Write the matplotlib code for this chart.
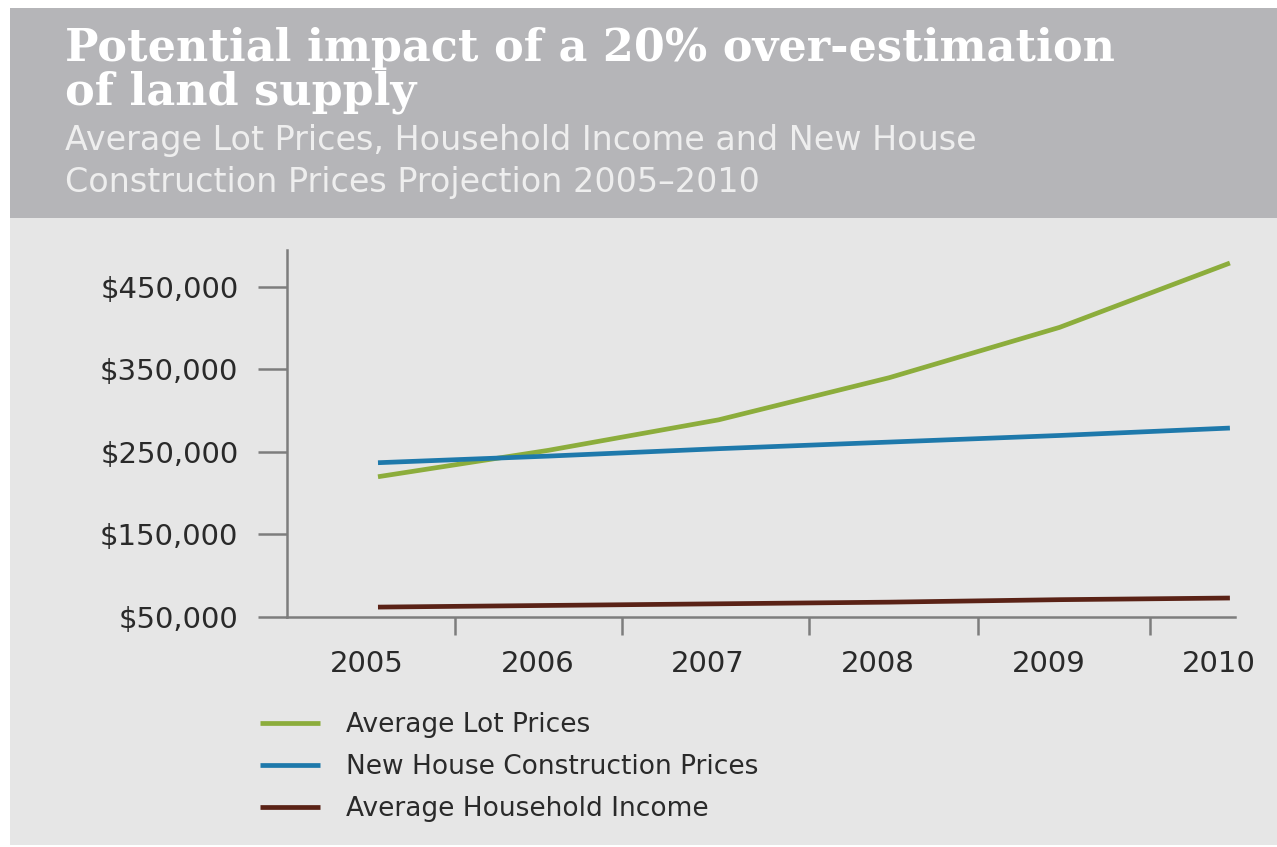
import matplotlib
matplotlib.use("Agg")
import matplotlib.pyplot as plt
import matplotlib.transforms as mtransforms
from matplotlib.patches import Rectangle

# projected values, in thousands of dollars
years = [2005, 2006, 2007, 2008, 2009, 2010]
lot_prices = [220, 252, 289, 340, 401, 479]
construction_prices = [237, 245, 254, 262, 270, 279]
household_income = [62, 64, 66, 68, 71, 73]

series_labels = ["Average Lot Prices", "New House Construction Prices", "Average Household Income"]
series_colors = ["#8cad3c", "#1e79ab", "#5a2216"]

y_ticks = [50, 150, 250, 350, 450]
y_ticklabels = ["$50,000", "$150,000", "$250,000", "$350,000", "$450,000"]
x_minor = [2005.45, 2006.43, 2007.53, 2008.52, 2009.53]

W, H = 1277, 847


def px(x, y):
    # pixel coords (top-left origin) to figure fraction
    return x / W, 1 - y / H


fig = plt.figure(figsize=(W / 100, H / 100), dpi=100, facecolor="white")

# header band and panel background
fig.patches.append(Rectangle(px(10, 218), (W - 10) / W, 210 / H, transform=fig.transFigure,
                             facecolor="#b5b5b8", edgecolor="none", zorder=-5))
fig.patches.append(Rectangle(px(10, 845), (W - 10) / W, 627 / H, transform=fig.transFigure,
                             facecolor="#e6e6e6", edgecolor="none", zorder=-5))

title_font = dict(family="DejaVu Serif", weight="bold", size=32, color="white", va="baseline")
sub_font = dict(family="DejaVu Sans", size=24, color="#eeeeee", va="baseline")
tx, ty = px(65, 61)
fig.text(tx, ty, "Potential impact of a 20% over-estimation", **title_font)
tx, ty = px(65, 105)
fig.text(tx, ty, "of land supply", **title_font)
tx, ty = px(65, 150)
fig.text(tx, ty, "Average Lot Prices, Household Income and New House", **sub_font)
tx, ty = px(65, 192)
fig.text(tx, ty, "Construction Prices Projection 2005\u20132010", **sub_font)

left, top = px(287, 250)
right, bottom = px(1235, 617)
ax = fig.add_axes([left, bottom, right - left, top - bottom])
ax.set_zorder(2)
ax.set_facecolor("none")

for vals, lab, col in zip([lot_prices, construction_prices, household_income],
                          series_labels, series_colors):
    ax.plot(years, vals, color=col, lw=3.4, label=lab,
            solid_capstyle="butt", solid_joinstyle="round")

ax.set_xlim(2004.466, 2010.03)
ax.set_ylim(50, 494.8)

for s in ["top", "right"]:
    ax.spines[s].set_visible(False)
for s in ["left", "bottom"]:
    ax.spines[s].set_color("#7d7d7d")
    ax.spines[s].set_linewidth(1.8)

ax.set_yticks(y_ticks)
ax.set_yticklabels(y_ticklabels)
ax.tick_params(axis="y", length=21, width=1.8, color="#7d7d7d", pad=14,
               labelsize=21, labelcolor="#2a2a2a")

ax.set_xticks(years)
ax.set_xticklabels([str(y) for y in years])
ax.tick_params(axis="x", which="major", length=0, pad=24, labelsize=21, labelcolor="#2a2a2a")
ax.set_xticks(x_minor, minor=True)
ax.tick_params(axis="x", which="minor", length=13, width=1.8, color="#7d7d7d")

# year labels sit slightly left of their data points
shift = mtransforms.ScaledTranslation(-11 / 100, 0, fig.dpi_scale_trans)
for lab in ax.get_xticklabels():
    lab.set_transform(lab.get_transform() + shift)

lx, ly = px(236, 688)
leg = fig.legend(loc="upper left", bbox_to_anchor=(lx, ly), frameon=False,
                 fontsize=19, handlelength=2.3, handletextpad=0.95, labelspacing=0.62)
for t in leg.get_texts():
    t.set_color("#2a2a2a")

fig.savefig("out.png", dpi=100, facecolor="white")
